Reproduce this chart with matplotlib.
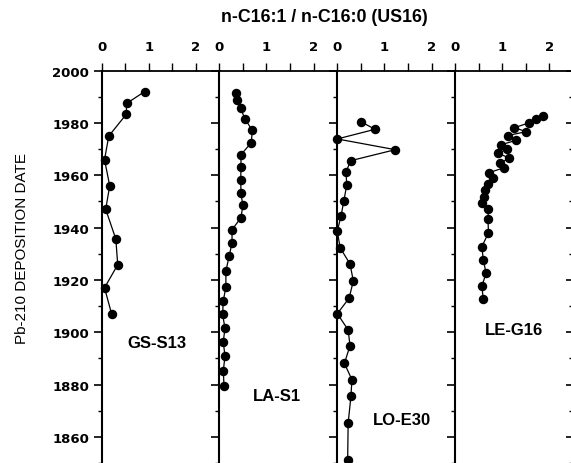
import matplotlib
matplotlib.use("Agg")
import matplotlib.pyplot as plt
from matplotlib.ticker import MultipleLocator

plt.rcParams['font.family'] = ['Liberation Sans', 'DejaVu Sans']

# GS-S13
gs_ano = [1992, 1987.5, 1983.3, 1975, 1966, 1956, 1947, 1935.6, 1925.8, 1917, 1907]
gs_val = [0.91, 0.53, 0.52, 0.15, 0.06, 0.17, 0.085, 0.30, 0.34, 0.06, 0.21]

# LA-S1
la_ano = [1991.4, 1988.9, 1985.6, 1981.7, 1977.2, 1972.5, 1967.9, 1963.3, 1958.1,
          1953.1, 1948.5, 1943.8, 1939.2, 1934.1, 1929.2, 1923.4, 1917.4, 1912,
          1906.9, 1901.5, 1896.4, 1890.8, 1885.2, 1879.6]
la_val = [0.35, 0.38, 0.455, 0.54, 0.70, 0.68, 0.46, 0.46, 0.455,
          0.46, 0.50, 0.46, 0.27, 0.27, 0.21, 0.14, 0.14, 0.085,
          0.07, 0.12, 0.085, 0.12, 0.085, 0.10]

# LO-E30
lo_ano = [1980.5, 1977.6, 1973.9, 1969.8, 1965.6, 1961.3, 1956.3, 1950.3, 1944.6,
          1938.6, 1932.3, 1926.1, 1919.6, 1913, 1907.1, 1900.9, 1894.8, 1888.1,
          1881.9, 1875.6, 1865.2, 1851.1]
lo_val = [0.50, 0.80, 0.0, 1.23, 0.285, 0.185, 0.20, 0.14, 0.08,
          0.0, 0.06, 0.27, 0.34, 0.25, 0.0, 0.23, 0.27, 0.15,
          0.31, 0.29, 0.23, 0.22]

# LE-G16
le_ano = [1982.7, 1981.4, 1980, 1978.2, 1976.7, 1975.2, 1973.4, 1971.7, 1970.1,
          1968.4, 1966.6, 1964.6, 1962.9, 1961, 1959.1, 1956.8, 1954.4, 1951.8,
          1949.4, 1947, 1943.2, 1938, 1932.7, 1927.7, 1922.6, 1917.6, 1912.6]
le_val = [1.86, 1.72, 1.56, 1.26, 1.51, 1.12, 1.30, 0.98, 1.10,
          0.92, 1.15, 0.96, 1.04, 0.72, 0.80, 0.69, 0.64, 0.62,
          0.57, 0.71, 0.70, 0.71, 0.57, 0.60, 0.66, 0.57, 0.60]

series = [(gs_val, gs_ano), (la_val, la_ano), (lo_val, lo_ano), (le_val, le_ano)]
nomes = ["GS-S13", "LA-S1", "LO-E30", "LE-G16"]
pos_nome = [(1.18, 1895.9), (1.23, 1875.8), (1.38, 1866.5), (1.25, 1900.9)]

anos_ticks = list(range(1860, 2001, 20))

W, H = 571, 464
fig = plt.figure(figsize=(W / 100, H / 100), dpi=100)

lefts = [101.7, 219.3, 337.3, 455.0]
largura = 117.8
topo = 71.7

# fonte dos rotulos dos eixos (mais larga, como no original)
fonte_tick = dict(family='DejaVu Sans', fontweight='bold', fontsize=9.5)

for i, (x, y) in enumerate(series):
    ax = fig.add_axes([lefts[i] / W, 0, largura / W, 1 - topo / H])
    ax.plot(x, y, '-o', color='black', lw=0.9, ms=5.8, clip_on=False, zorder=3)
    ax.set_xlim(0, 2.5)
    ax.set_ylim(1850, 2000)

    ax.xaxis.tick_top()
    ax.set_xticks([0, 0.5, 1, 1.5, 2])
    ax.set_xticklabels(['0', '', '1', '', '2'], **fonte_tick)
    ax.tick_params(axis='x', direction='out', length=5.5, width=1, pad=7)

    ax.yaxis.set_major_locator(MultipleLocator(20))
    ax.yaxis.set_minor_locator(MultipleLocator(10))
    ax.tick_params(axis='y', which='major', direction='out', length=6, width=1.2)
    ax.tick_params(axis='y', which='minor', direction='out', length=3, width=1)
    if i == 0:
        ax.set_yticks(anos_ticks)
        ax.set_yticklabels([str(a) for a in anos_ticks], **fonte_tick)
        ax.tick_params(axis='y', pad=3)
        ax.set_ylabel("Pb-210 DEPOSITION DATE", fontsize=11)
        ax.yaxis.set_label_coords(-0.62, 0.55)
    else:
        ax.tick_params(axis='y', labelleft=False)

    for lado in ['right', 'bottom']:
        ax.spines[lado].set_visible(False)
    ax.spines['left'].set_linewidth(1.5)
    ax.spines['top'].set_linewidth(1.3)

    if i == 3:
        sec = ax.secondary_yaxis('right')
        sec.yaxis.set_major_locator(MultipleLocator(20))
        sec.yaxis.set_minor_locator(MultipleLocator(10))
        sec.tick_params(which='major', direction='in', length=5, width=1.2, labelright=False)
        sec.tick_params(which='minor', direction='in', length=3, width=1)
        sec.spines['right'].set_visible(False)

    nx, ny = pos_nome[i]
    ax.text(nx, ny, nomes[i], ha='center', va='center', fontweight='bold', fontsize=12)

fig.text(324 / W, 1 - 18 / H, "n-C16:1 / n-C16:0 (US16)", ha='center', va='center',
         fontweight='bold', fontsize=12.8)

fig.savefig("out.png", dpi=100)
